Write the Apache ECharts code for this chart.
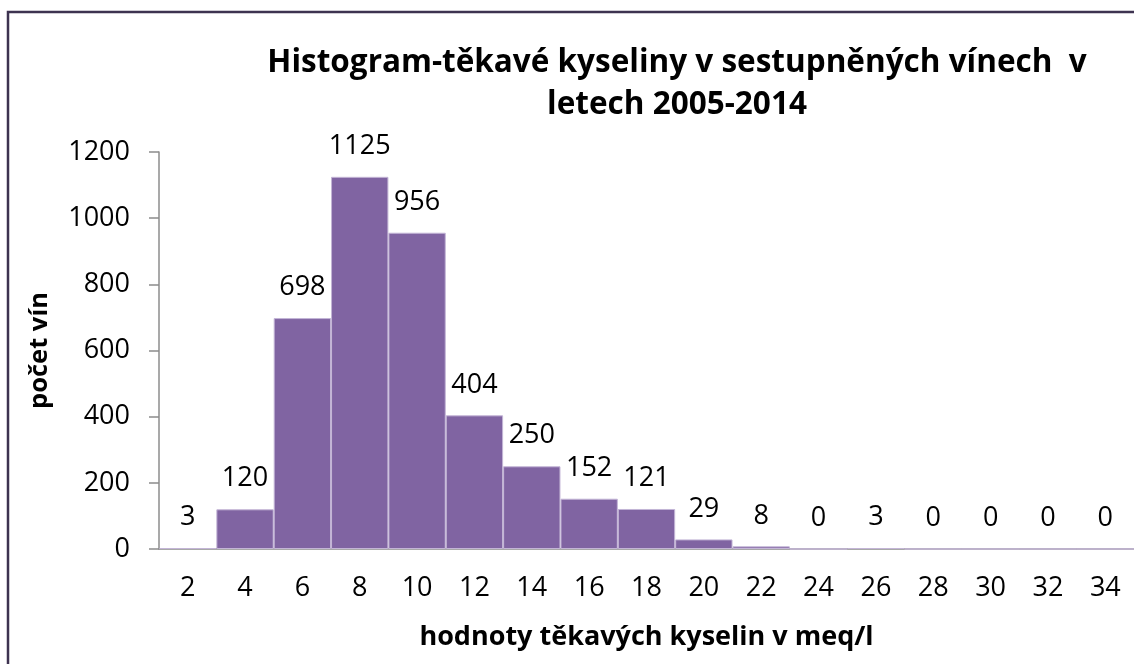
<!DOCTYPE html>
<html>
<head>
<meta charset="utf-8">
<script src="https://cdn.jsdelivr.net/npm/echarts@6/dist/echarts.min.js"></script>
<style>
html,body{margin:0;padding:0;background:#fff;}
#chart{width:1134px;height:664px;}
</style>
</head>
<body>
<div id="chart"></div>
<script>
const categories = ['2','4','6','8','10','12','14','16','18','20','22','24','26','28','30','32','34'];
const counts = [3,120,698,1125,956,404,250,152,121,29,8,0,3,0,0,0,0];
const yTicks = {min:0, max:1200, interval:200};
const titleLines = ['Histogram-těkavé kyseliny v sestupněných vínech  v', 'letech 2005-2014'];
const xName = 'hodnoty těkavých kyselin v meq/l';
const yName = 'počet vín';

const FONT = 'Open Sans';
const chart = echarts.init(document.getElementById('chart'), null, {renderer:'canvas'});
chart.setOption({
  animation:false,
  backgroundColor:'#fff',
  graphic:[{
    type:'rect', shape:{x:8, y:12, width:1200, height:800},
    style:{fill:'none', stroke:'#3d3350', lineWidth:2.5}, z:100
  }],
  title:{
    text:titleLines.join('\n'),
    left:672, top:37, textAlign:'center',
    textStyle:{fontFamily:FONT, fontWeight:'bold', fontSize:31.5, color:'#000', lineHeight:42}
  },
  grid:{left:159, right:0, top:152, bottom:115, containLabel:false},
  xAxis:{
    type:'category', data:categories,
    name:xName, nameLocation:'middle', nameGap:75,
    nameTextStyle:{fontFamily:FONT, fontWeight:'bold', fontSize:27, color:'#000'},
    axisLine:{lineStyle:{color:'#8c8c8c', width:1.5}},
    axisTick:{show:false},
    axisLabel:{fontFamily:FONT, fontSize:27, color:'#000', margin:26}
  },
  yAxis:{
    type:'value', min:yTicks.min, max:yTicks.max, interval:yTicks.interval,
    name:yName, nameLocation:'middle', nameGap:106,
    nameTextStyle:{fontFamily:FONT, fontWeight:'bold', fontSize:25.5, color:'#000'},
    axisLine:{show:true, lineStyle:{color:'#8c8c8c', width:1.5}},
    axisTick:{show:true, length:10, lineStyle:{color:'#8c8c8c', width:1.5}},
    splitLine:{show:false},
    axisLabel:{fontFamily:FONT, fontSize:27, color:'#000', margin:29, formatter:function(v){return String(v);}}
  },
  series:[{
    type:'bar', data:counts, barCategoryGap:'0%',
    itemStyle:{color:'#8064A2', borderColor:'#c3b5d6', borderWidth:1},
    label:{show:true, position:'top', distance:17, fontFamily:FONT, fontSize:27, color:'#000'}
  }]
});
</script>
</body>
</html>
